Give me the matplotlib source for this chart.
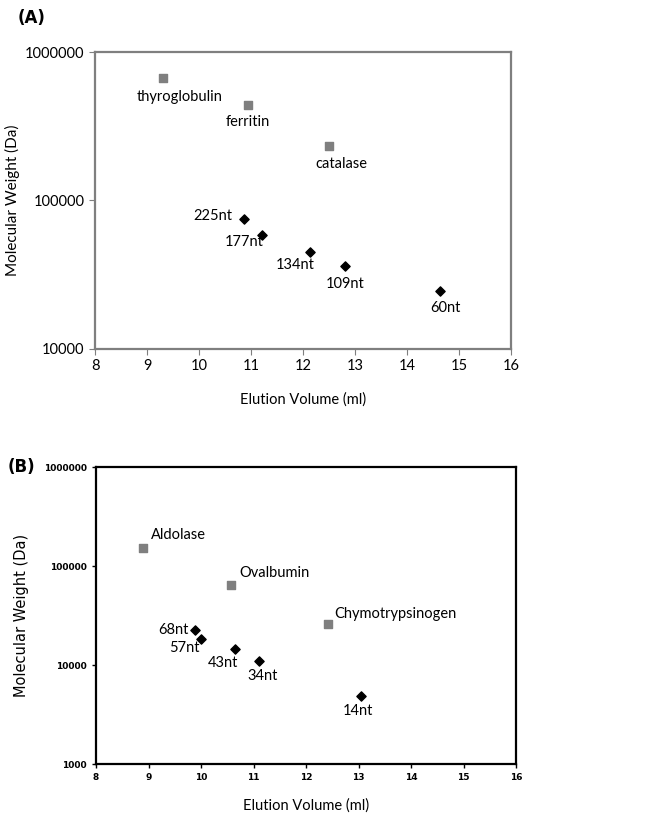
import numpy as np
import matplotlib.pyplot as plt

# ---- panel A data
a_std_names = ["thyroglobulin", "ferritin", "catalase"]
a_std_vol = [9.30, 10.94, 12.50]
a_std_mw = [669000, 440000, 234000]

a_rna_names = ["225nt", "177nt", "134nt", "109nt", "60nt"]
a_rna_vol = [10.86, 11.21, 12.13, 12.81, 14.64]
a_rna_mw = [74600, 58600, 44700, 36400, 24400]

# ---- panel B data
b_std_names = ["Aldolase", "Ovalbumin", "Chymotrypsinogen"]
b_std_vol = [8.90, 10.57, 12.41]
b_std_mw = [153000, 64300, 26100]

b_rna_names = ["68nt", "57nt", "43nt", "34nt", "14nt"]
b_rna_vol = [9.89, 10.00, 10.64, 11.11, 13.05]
b_rna_mw = [22700, 18300, 14400, 11000, 4820]

x_ticks = [8, 9, 10, 11, 12, 13, 14, 15, 16]

# label offsets in pixels (dx, dy) and alignment
a_std_off = [(17, -19, "center"), (0, -17, "center"), (12, -18, "center")]
a_rna_off = [(-31, 3, "center"), (-18, -7, "center"), (-15, -13, "center"),
             (0, -18, "center"), (5, -17, "center")]
b_std_off = [(8, 13, "left"), (8, 12, "left"), (7, 10, "left")]
b_rna_off = [(-22, 0, "center"), (-17, -9, "center"), (-12, -14, "center"),
             (3, -15, "center"), (-3, -15, "center")]

LBL_FONT = "Lato"
GRAY = "#7f7f7f"

fig = plt.figure(figsize=(6.52, 8.13), dpi=100)
axA = fig.add_axes([95 / 652, 1 - 349 / 813, 416 / 652, 297 / 813])
axB = fig.add_axes([96 / 652, 1 - 764 / 813, 420 / 652, 297 / 813])


def label(ax, xs, ys, names, offs, size):
    for x, y, n, (dx, dy, ha) in zip(xs, ys, names, offs):
        ax.annotate(n, (x, y), xytext=(dx, dy), textcoords="offset pixels",
                    ha=ha, va="center", fontsize=size, family=LBL_FONT)


# ---- plot A
axA.scatter(a_std_vol, a_std_mw, marker="s", s=28, color=GRAY, zorder=3)
axA.scatter(a_rna_vol, a_rna_mw, marker="D", s=22, color="black", zorder=3)
label(axA, a_std_vol, a_std_mw, a_std_names, a_std_off, 10.5)
label(axA, a_rna_vol, a_rna_mw, a_rna_names, a_rna_off, 10.5)
axA.set_yscale("log")
axA.set_xlim(8, 16)
axA.set_ylim(10000, 1000000)
axA.set_xticks(x_ticks)
axA.set_yticks([10000, 100000, 1000000])
axA.set_yticklabels(["10000", "100000", "1000000"])
axA.minorticks_off()
axA.tick_params(labelsize=10.5, length=4, color=GRAY)
for t in axA.get_xticklabels() + axA.get_yticklabels():
    t.set_family(LBL_FONT)
for s in axA.spines.values():
    s.set_color(GRAY)
    s.set_linewidth(1.6)
axA.set_xlabel("Elution Volume (ml)", fontsize=10.5, family=LBL_FONT, labelpad=14)
axA.set_ylabel("Molecular Weight (Da)", fontsize=11, family=LBL_FONT, labelpad=4)

# ---- plot B
axB.scatter(b_std_vol, b_std_mw, marker="s", s=28, color=GRAY, zorder=3)
axB.scatter(b_rna_vol, b_rna_mw, marker="D", s=22, color="black", zorder=3)
label(axB, b_std_vol, b_std_mw, b_std_names, b_std_off, 10.5)
label(axB, b_rna_vol, b_rna_mw, b_rna_names, b_rna_off, 10.5)
axB.set_yscale("log")
axB.set_xlim(8, 16)
axB.set_ylim(1000, 1000000)
axB.set_xticks(x_ticks)
axB.set_yticks([1000, 10000, 100000, 1000000])
axB.set_yticklabels(["1000", "10000", "100000", "1000000"])
axB.minorticks_off()
axB.tick_params(labelsize=6.5, length=3, width=1)
for t in axB.get_xticklabels() + axB.get_yticklabels():
    t.set_family("DejaVu Sans")
    t.set_fontweight("bold")
for s in axB.spines.values():
    s.set_linewidth(1.6)
axB.set_xlabel("Elution Volume (ml)", fontsize=10.5, family=LBL_FONT, labelpad=12)
axB.set_ylabel("Molecular Weight (Da)", fontsize=10.5, family="DejaVu Sans", labelpad=11)

fig.text(18 / 652, 1 - 18 / 813, "(A)", fontsize=12, fontweight="bold", va="center")
fig.text(8 / 652, 1 - 467 / 813, "(B)", fontsize=12, fontweight="bold", va="center")

fig.savefig("out.png", dpi=100)
